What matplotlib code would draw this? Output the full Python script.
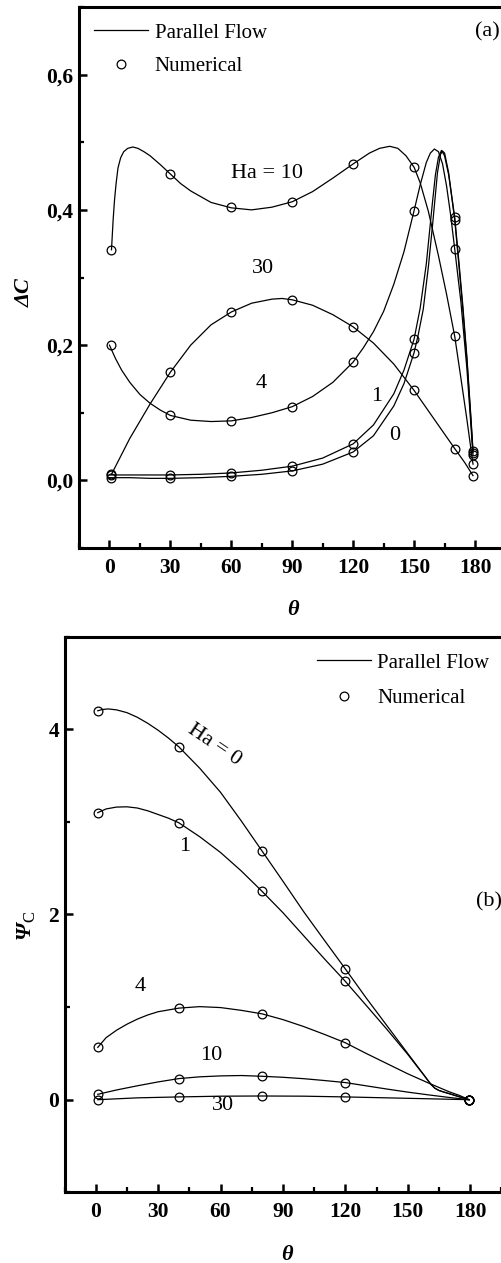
import matplotlib
matplotlib.use("Agg")
import matplotlib.pyplot as plt
from matplotlib.lines import Line2D
from matplotlib.ticker import FixedLocator, MultipleLocator

plt.rcParams['font.family'] = ['Liberation Serif', 'DejaVu Serif']
plt.rcParams['mathtext.fontset'] = 'custom'
plt.rcParams['mathtext.rm'] = 'Liberation Serif'
plt.rcParams['mathtext.it'] = 'Liberation Serif:italic'
plt.rcParams['mathtext.bf'] = 'Liberation Serif:bold'

# ---------------- Panel (a): Delta C ----------------
num_theta_a = [1, 30, 60, 90, 120, 150, 170, 179]
num_a_ha0 = [0.004, 0.003, 0.006, 0.014, 0.042, 0.189, 0.385, 0.041]
num_a_ha1 = [0.008, 0.008, 0.011, 0.021, 0.054, 0.209, 0.389, 0.044]
num_a_ha4 = [0.200, 0.096, 0.088, 0.109, 0.175, 0.399, 0.342, 0.037]
num_a_ha10 = [0.341, 0.453, 0.404, 0.412, 0.468, 0.463, 0.213, 0.024]
num_a_ha30 = [0.009, 0.160, 0.249, 0.267, 0.227, 0.133, 0.047, 0.007]

pf_a_ha0_t = [0, 10, 20, 30, 45, 60, 75, 90, 105, 120, 130, 140, 145, 150, 152, 154.5, 157, 159, 161.5, 163, 164, 165, 167, 170, 172, 174, 176, 178, 179]
pf_a_ha0_v = [0.004, 0.004, 0.003, 0.003, 0.004, 0.006, 0.009, 0.014, 0.024, 0.042, 0.066, 0.110, 0.143, 0.189, 0.215, 0.253, 0.315, 0.375, 0.455, 0.482, 0.487, 0.484, 0.455, 0.385, 0.320, 0.252, 0.178, 0.088, 0.041]

pf_a_ha1_t = [0, 10, 20, 30, 45, 60, 75, 90, 105, 120, 130, 140, 145, 150, 153, 156, 159, 160.5, 162, 163.5, 165, 167, 170, 172, 174, 176, 178, 179]
pf_a_ha1_v = [0.008, 0.008, 0.008, 0.008, 0.009, 0.011, 0.015, 0.021, 0.033, 0.054, 0.082, 0.128, 0.163, 0.209, 0.255, 0.320, 0.410, 0.452, 0.478, 0.488, 0.480, 0.452, 0.389, 0.325, 0.258, 0.182, 0.092, 0.044]

pf_a_ha4_t = [0, 3, 6, 10, 15, 20, 25, 30, 40, 50, 60, 70, 80, 90, 100, 110, 120, 125, 130, 135, 140, 145, 150, 153, 156, 158, 160, 162, 164, 166, 168, 170, 173, 176, 178, 179]
pf_a_ha4_v = [0.200, 0.180, 0.163, 0.145, 0.127, 0.114, 0.104, 0.096, 0.089, 0.087, 0.088, 0.093, 0.100, 0.109, 0.124, 0.145, 0.175, 0.196, 0.220, 0.250, 0.290, 0.338, 0.399, 0.437, 0.470, 0.484, 0.490, 0.486, 0.468, 0.435, 0.392, 0.342, 0.265, 0.165, 0.080, 0.037]

pf_a_ha10_t = [1, 1.8, 2.5, 3.3, 4.2, 5.5, 7, 9, 11.5, 14, 17, 20, 25, 30, 35, 40, 50, 60, 70, 80, 90, 100, 110, 120, 128, 133, 138, 142, 146, 150, 153, 157, 162, 166, 170, 173, 176, 179]
pf_a_ha10_v = [0.341, 0.385, 0.415, 0.440, 0.462, 0.477, 0.486, 0.491, 0.493, 0.491, 0.486, 0.480, 0.467, 0.453, 0.439, 0.428, 0.411, 0.403, 0.400, 0.404, 0.412, 0.427, 0.447, 0.468, 0.484, 0.491, 0.494, 0.491, 0.480, 0.463, 0.440, 0.398, 0.332, 0.275, 0.213, 0.152, 0.090, 0.024]

pf_a_ha30_t = [1, 10, 20, 30, 40, 50, 60, 70, 80, 85, 90, 100, 110, 120, 130, 140, 150, 160, 170, 175, 179]
pf_a_ha30_v = [0.009, 0.062, 0.113, 0.160, 0.200, 0.230, 0.249, 0.262, 0.268, 0.269, 0.267, 0.259, 0.245, 0.227, 0.203, 0.172, 0.133, 0.090, 0.047, 0.026, 0.007]

yticks_a = [0.0, 0.2, 0.4, 0.6]
yticklabels_a = ['0,0', '0,2', '0,4', '0,6']

# ---------------- Panel (b): Psi_C ----------------
num_theta_b = [1, 40, 80, 120, 179.5]
num_b_ha0 = [4.20, 3.81, 2.685, 1.413, 0.0]
num_b_ha1 = [3.10, 2.99, 2.25, 1.278, 0.0]
num_b_ha4 = [0.565, 0.989, 0.927, 0.615, 0.0]
num_b_ha10 = [0.058, 0.228, 0.253, 0.185, 0.0]
num_b_ha30 = [0.0, 0.03, 0.04, 0.03, 0.0]

pf_b_ha0_t = [1, 3, 6, 10, 15, 20, 25, 30, 35, 40, 50, 60, 70, 80, 90, 100, 110, 120, 130, 140, 150, 155, 158, 161, 163, 165, 167, 170, 175, 179.5]
pf_b_ha0_v = [4.20, 4.213, 4.22, 4.21, 4.18, 4.13, 4.065, 3.99, 3.905, 3.81, 3.58, 3.32, 3.01, 2.685, 2.36, 2.03, 1.72, 1.413, 1.10, 0.80, 0.50, 0.35, 0.26, 0.17, 0.125, 0.10, 0.085, 0.065, 0.03, 0.0]

pf_b_ha1_t = [1, 5, 10, 15, 20, 25, 30, 35, 40, 50, 60, 70, 80, 90, 100, 110, 120, 130, 140, 150, 155, 158, 161, 163, 165, 167, 170, 175, 179.5]
pf_b_ha1_v = [3.10, 3.14, 3.16, 3.163, 3.15, 3.12, 3.08, 3.04, 2.99, 2.84, 2.67, 2.47, 2.25, 2.02, 1.77, 1.52, 1.278, 1.02, 0.76, 0.49, 0.345, 0.26, 0.17, 0.125, 0.10, 0.085, 0.065, 0.03, 0.0]

pf_b_ha4_t = [1, 5, 10, 15, 20, 25, 30, 40, 50, 60, 70, 80, 90, 100, 110, 120, 130, 140, 150, 160, 170, 175, 179.5]
pf_b_ha4_v = [0.565, 0.67, 0.75, 0.815, 0.87, 0.915, 0.95, 0.989, 1.005, 0.995, 0.965, 0.927, 0.865, 0.79, 0.705, 0.615, 0.50, 0.39, 0.28, 0.18, 0.085, 0.045, 0.0]

pf_b_ha10_t = [1, 10, 20, 30, 40, 50, 60, 70, 80, 90, 100, 110, 120, 130, 140, 150, 160, 170, 179.5]
pf_b_ha10_v = [0.058, 0.105, 0.150, 0.192, 0.228, 0.247, 0.257, 0.261, 0.253, 0.242, 0.227, 0.207, 0.185, 0.150, 0.115, 0.082, 0.052, 0.024, 0.0]

pf_b_ha30_t = [1, 20, 40, 60, 80, 100, 120, 140, 160, 179.5]
pf_b_ha30_v = [0.0, 0.02, 0.03, 0.038, 0.04, 0.038, 0.03, 0.02, 0.01, 0.0]

yticks_b = [0, 2, 4]
yticklabels_b = ['0', '2', '4']

xticks = [0, 30, 60, 90, 120, 150, 180]
xticklabels = ['0', '30', '60', '90', '120', '150', '180']

W, H = 501, 1263
fig = plt.figure(figsize=(W / 100, H / 100), dpi=100)

def px(x0, y0, x1, y1):
    # convert pixel box (left, top, right, bottom) to figure fraction
    return [x0 / W, 1 - y1 / H, (x1 - x0) / W, (y1 - y0) / H]

ax1 = fig.add_axes(px(79, 7, 505.5, 548))
ax2 = fig.add_axes(px(64.5, 636.7, 501.3, 1192.3))

LW = 0.9
MS = 6.3
MEW = 0.9

def style(ax, yt, ytl, ylim, yminor):
    ax.set_xlim(-15, 195)
    ax.set_ylim(*ylim)
    ax.xaxis.set_major_locator(FixedLocator(xticks))
    ax.set_xticklabels(xticklabels)
    ax.xaxis.set_minor_locator(MultipleLocator(15))
    ax.yaxis.set_major_locator(FixedLocator(yt))
    ax.set_yticklabels(ytl)
    ax.yaxis.set_minor_locator(MultipleLocator(yminor))
    ax.spines['right'].set_visible(False)
    for s in ['left', 'bottom', 'top']:
        ax.spines[s].set_linewidth(2.2)
    ax.tick_params(which='major', direction='in', length=6, width=1.8,
                   labelsize=15.5, pad=4)
    ax.tick_params(which='minor', direction='in', length=3.5, width=1.6)
    ax.tick_params(axis='x', which='major', pad=7)
    ax.tick_params(top=False, right=False, which='both')
    for lab in ax.get_xticklabels() + ax.get_yticklabels():
        lab.set_fontweight('bold')

# Panel (a)
for t, v in [(pf_a_ha0_t, pf_a_ha0_v), (pf_a_ha1_t, pf_a_ha1_v),
             (pf_a_ha4_t, pf_a_ha4_v), (pf_a_ha10_t, pf_a_ha10_v),
             (pf_a_ha30_t, pf_a_ha30_v)]:
    ax1.plot(t, v, color='black', lw=LW, solid_joinstyle='round')
for v in [num_a_ha0, num_a_ha1, num_a_ha4, num_a_ha10, num_a_ha30]:
    ax1.plot(num_theta_a, v, linestyle='none', marker='o', ms=MS,
             mfc='none', mec='black', mew=MEW)
style(ax1, yticks_a, yticklabels_a, (-0.1, 0.7), 0.1)

# Panel (b)
for t, v in [(pf_b_ha0_t, pf_b_ha0_v), (pf_b_ha1_t, pf_b_ha1_v),
             (pf_b_ha4_t, pf_b_ha4_v), (pf_b_ha10_t, pf_b_ha10_v),
             (pf_b_ha30_t, pf_b_ha30_v)]:
    ax2.plot(t, v, color='black', lw=LW, solid_joinstyle='round')
for v in [num_b_ha0, num_b_ha1, num_b_ha4, num_b_ha10, num_b_ha30]:
    ax2.plot(num_theta_b, v, linestyle='none', marker='o', ms=MS,
             mfc='none', mec='black', mew=MEW)
style(ax2, yticks_b, yticklabels_b, (-1, 5), 1)

# Legends
handles = [Line2D([], [], color='black', lw=LW),
           Line2D([], [], linestyle='none', marker='o', ms=MS, mfc='none',
                  mec='black', mew=MEW)]
labels = ['Parallel Flow', 'Numerical']
for ax, anchor, spacing in [(ax1, (94.3, 23), 0.68), (ax2, (316.7, 653), 0.78)]:
    ax.legend(handles, labels, loc='upper left',
              bbox_to_anchor=(anchor[0] / W, 1 - anchor[1] / H),
              bbox_transform=fig.transFigure, frameon=False,
              fontsize=15, handlelength=2.6, handletextpad=0.3,
              labelspacing=spacing, borderpad=0, borderaxespad=0)

def ftext(x, y, s, **kw):
    fig.text(x / W, 1 - y / H, s, ha='center', va='center', **kw)

# panel a annotations
ftext(266.7, 174, 'Ha = 10', fontsize=16)
ftext(263.3, 268.3, '30', fontsize=16)
ftext(261, 383.3, '4', fontsize=16)
ftext(376.7, 396.7, '1', fontsize=16)
ftext(395, 435, '0', fontsize=16)
fig.text(475 / W, 1 - 31.7 / H, '(a)', ha='left', va='center', fontsize=16)
ftext(25, 293, 'ΔC', fontsize=16, fontweight='bold', style='italic', rotation=90)
ftext(293.3, 610, 'θ', fontsize=16, fontweight='bold', style='italic')

# panel b annotations
ftext(214, 745, r'Ha = $\mathit{0}$', fontsize=16, rotation=-34)
ftext(185, 846.7, '1', fontsize=16)
ftext(140, 986.7, '4', fontsize=16)
ftext(211.7, 1055, '10', fontsize=16)
ftext(223.3, 1105, '30', fontsize=16)
fig.text(476 / W, 1 - 901.7 / H, '(b)', ha='left', va='center', fontsize=16)
ftext(25, 930, 'Ψ', fontsize=16, fontweight='bold', style='italic', rotation=90)
ftext(30, 916, 'C', fontsize=12, rotation=90)
ftext(286.7, 1255, 'θ', fontsize=16, fontweight='bold', style='italic')

fig.savefig('out.png', dpi=100)
